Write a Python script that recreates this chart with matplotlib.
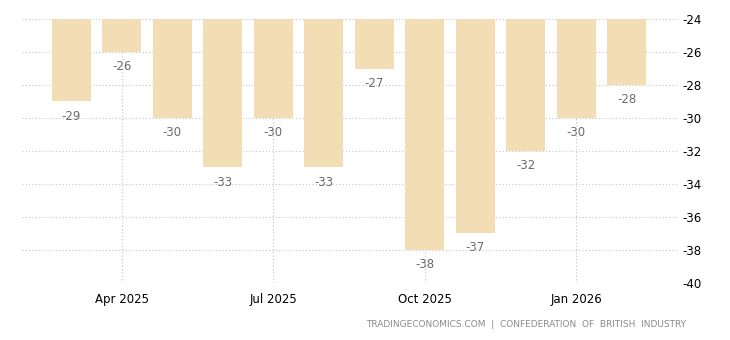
import matplotlib
matplotlib.use('Agg')
import matplotlib.pyplot as plt

plt.rcParams['axes.unicode_minus'] = False

months = ['Mar 2025', 'Apr 2025', 'May 2025', 'Jun 2025', 'Jul 2025', 'Aug 2025',
          'Sep 2025', 'Oct 2025', 'Nov 2025', 'Dec 2025', 'Jan 2026', 'Feb 2026']
values = [-29, -26, -30, -33, -30, -33, -27, -38, -37, -32, -30, -28]
tick_labels = ['Apr 2025', 'Jul 2025', 'Oct 2025', 'Jan 2026']
base = -24

fig = plt.figure(figsize=(7.3, 3.4), dpi=100)
ax = fig.add_axes([0.030, 0.168, 0.897, 0.776])

x = list(range(len(months)))
heights = [v - base for v in values]
ax.bar(x, heights, bottom=base, width=0.77, color='#f3ddb4', zorder=2)

for xi, v in zip(x, values):
    ax.annotate(str(v), (xi, v), xytext=(0, -10.5), textcoords='offset points',
                ha='center', va='center', fontsize=8.5, color='#6b6b6b', zorder=3)

ax.set_xlim(-0.98, 11.99)
ax.set_ylim(-40, -24)
ax.set_yticks(range(-40, -23, 2))
ax.yaxis.tick_right()
ax.set_xticks([months.index(t) for t in tick_labels])
ax.set_xticklabels(tick_labels)
ax.tick_params(axis='both', length=0, labelsize=8.5, colors='#000000', pad=4)
ax.tick_params(axis='x', pad=7)

ax.grid(True, axis='both', linestyle=(0, (1, 2)), color='#c4c4c4', linewidth=0.8, zorder=0)
ax.set_axisbelow(True)
for s in ax.spines.values():
    s.set_visible(False)

fig.text(0.940, 0.045, 'TRADINGECONOMICS.COM  |  CONFEDERATION  OF  BRITISH  INDUSTRY',
         ha='right', va='center', fontsize=6.5, color='#8a8a8a')

fig.savefig('out.png', dpi=100)
